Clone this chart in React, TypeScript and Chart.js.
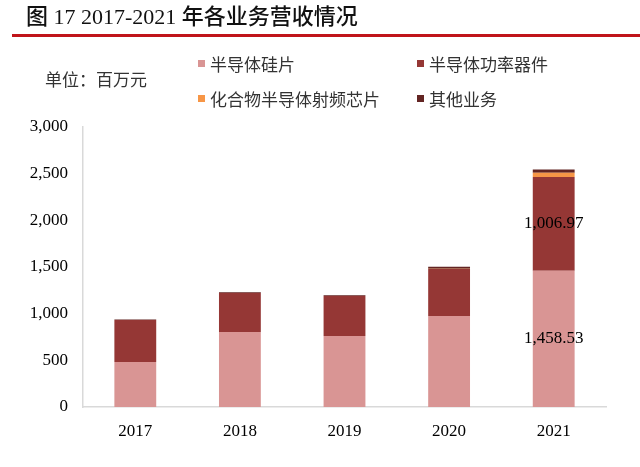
import { useEffect, useRef } from 'react';
import { Chart, registerables } from 'chart.js';
import type { Plugin } from 'chart.js';

Chart.register(...registerables);

const years = ['2017', '2018', '2019', '2020', '2021'];
const siliconWafer = [482, 804, 761, 975, 1458.53];
const powerDevice = [450, 417, 429, 504, 1006.97];
const rfChip = [0, 0, 0, 3, 45];
const otherBusiness = [5, 8, 6, 21, 35];
const yTicks = [0, 500, 1000, 1500, 2000, 2500, 3000];
const labeledYear = '2021';

const seriesNames = ['半导体硅片', '半导体功率器件', '化合物半导体射频芯片', '其他业务'];
const seriesColors = ['#D99594', '#953735', '#F79646', '#632523'];
// legend grid order: row 1 = silicon, power; row 2 = rf, other
const legendOrder = [0, 1, 2, 3];

const fmt = (v: number) =>
  v.toLocaleString('en-US', { minimumFractionDigits: 2, maximumFractionDigits: 2 });

// value labels for the two main segments of the last bar
const valueLabels: Plugin<'bar'> = {
  id: 'valueLabels',
  afterDatasetsDraw(chart) {
    const { ctx } = chart;
    const idx = years.indexOf(labeledYear);
    ctx.save();
    ctx.font = '17px "Liberation Serif", "Times New Roman", serif';
    ctx.fillStyle = '#000000';
    ctx.textAlign = 'center';
    ctx.textBaseline = 'middle';
    [0, 1].forEach((di) => {
      const bar = chart.getDatasetMeta(di).data[idx] as any;
      if (!bar) return;
      const value = chart.data.datasets[di].data[idx] as number;
      const yMid = (bar.y + bar.base) / 2;
      ctx.fillText(fmt(value), bar.x, yMid);
    });
    ctx.restore();
  },
};

export default function App() {
  const canvasRef = useRef<HTMLCanvasElement>(null);
  const chartRef = useRef<Chart | null>(null);

  useEffect(() => {
    document.body.style.margin = '0';
    if (!canvasRef.current) return;
    if (chartRef.current) chartRef.current.destroy();

    const serif = '"Liberation Serif", "Times New Roman", serif';
    const values = [siliconWafer, powerDevice, rfChip, otherBusiness];

    chartRef.current = new Chart(canvasRef.current, {
      type: 'bar',
      data: {
        labels: years,
        datasets: values.map((data, i) => ({
          label: seriesNames[i],
          data,
          backgroundColor: seriesColors[i],
          borderWidth: 0,
          barPercentage: 0.4,
          categoryPercentage: 1,
        })),
      },
      options: {
        animation: false,
        responsive: false,
        maintainAspectRatio: false,
        devicePixelRatio: 1,
        layout: { padding: { top: 127, right: 34, left: 0, bottom: 0 } },
        plugins: {
          legend: { display: false },
          tooltip: { enabled: false },
        },
        scales: {
          x: {
            stacked: true,
            grid: { display: false, drawTicks: false },
            border: { display: true, color: '#D9D9D9', width: 1.5 },
            ticks: {
              color: '#000000',
              padding: 14,
              font: { family: serif, size: 17 },
            },
            afterFit: (scale) => {
              scale.height = 60;
            },
          },
          y: {
            stacked: true,
            min: 0,
            max: 3000,
            grid: { display: false, drawTicks: false },
            border: { display: true, color: '#D9D9D9', width: 1.5 },
            afterBuildTicks: (scale) => {
              scale.ticks = yTicks.map((v) => ({ value: v }));
            },
            ticks: {
              color: '#000000',
              padding: 15,
              font: { family: serif, size: 17 },
              callback: (v) => Number(v).toLocaleString('en-US'),
            },
            afterFit: (scale) => {
              scale.width = 83;
            },
          },
        },
      },
      plugins: [valueLabels],
    });

    return () => {
      if (chartRef.current) {
        chartRef.current.destroy();
        chartRef.current = null;
      }
    };
  }, []);

  const cjk = '"Noto Sans CJK SC", "Noto Sans", sans-serif';

  return (
    <div style={{ position: 'relative', width: 640, height: 467, background: '#ffffff', overflow: 'hidden' }}>
      <canvas ref={canvasRef} width={640} height={467} style={{ position: 'absolute', left: 0, top: 0 }} />
      {/* title */}
      <div
        style={{
          position: 'absolute',
          left: 26,
          top: 2,
          fontSize: 22,
          lineHeight: '30px',
          fontWeight: 500,
          color: '#111111',
          fontFamily: `"Liberation Serif", ${cjk}`,
          whiteSpace: 'nowrap',
        }}
      >
        图 17 2017-2021 年各业务营收情况
      </div>
      <div style={{ position: 'absolute', left: 12, right: 0, top: 34, height: 3, background: '#C0141A' }} />
      {/* unit */}
      <div
        style={{
          position: 'absolute',
          left: 45,
          top: 68,
          fontSize: 17,
          lineHeight: '22px',
          color: '#333333',
          fontFamily: cjk,
          whiteSpace: 'nowrap',
        }}
      >
        单位：百万元
      </div>
      {/* legend */}
      {legendOrder.map((si, k) => {
        const col = k % 2;
        const row = Math.floor(k / 2);
        const left = col === 0 ? 198 : 417;
        const cy = row === 0 ? 63 : 98;
        return (
          <div
            key={si}
            style={{
              position: 'absolute',
              left,
              top: cy - 11,
              height: 22,
              display: 'flex',
              alignItems: 'center',
              fontSize: 17,
              color: '#333333',
              fontFamily: cjk,
              whiteSpace: 'nowrap',
            }}
          >
            <span style={{ display: 'inline-block', width: 7, height: 7, background: seriesColors[si], marginRight: 5 }} />
            {seriesNames[si]}
          </div>
        );
      })}
    </div>
  );
}
